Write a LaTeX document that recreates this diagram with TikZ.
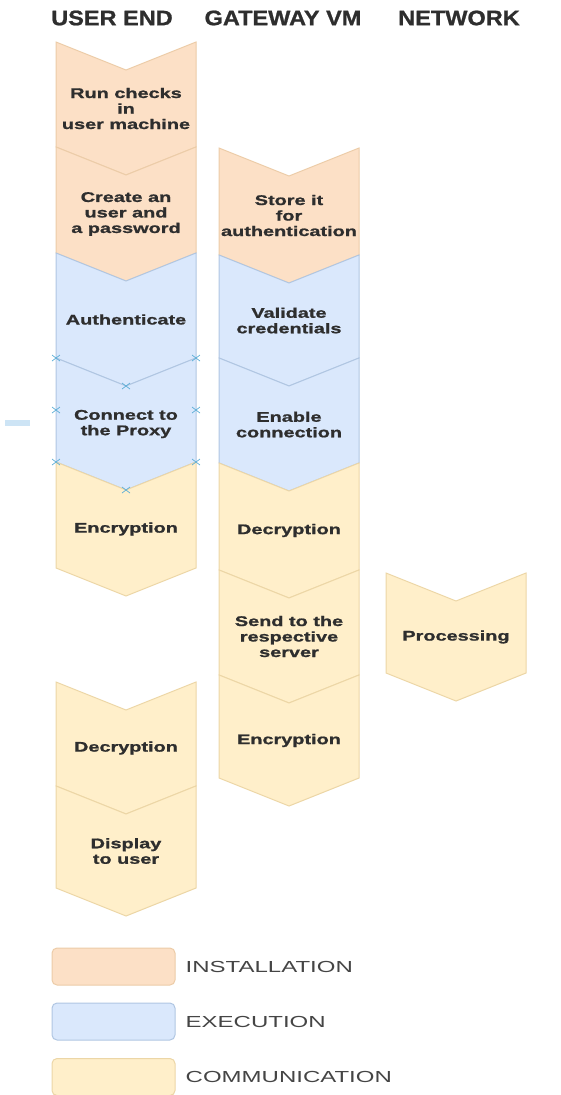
\documentclass[tikz,border=0pt]{standalone}
\usepackage{fontspec}
\setmainfont{Liberation Sans}
\newfontfamily\boxfont{Liberation Sans}[FakeStretch=1.42,FakeBold=1.2]
\newfontfamily\hdfont{Liberation Sans}[FakeStretch=1.12,FakeBold=1]
\newfontfamily\legfont{Liberation Sans}[FakeStretch=1.5]
\definecolor{instf}{RGB}{252,224,198}
\definecolor{instd}{RGB}{236,204,168}
\definecolor{exef}{RGB}{218,232,252}
\definecolor{exed}{RGB}{176,198,226}
\definecolor{commf}{RGB}{255,239,202}
\definecolor{commd}{RGB}{236,214,166}
\definecolor{ink}{gray}{0.18}
\definecolor{legink}{gray}{0.27}
\definecolor{hdl}{RGB}{95,175,215}
\definecolor{bluebar}{RGB}{205,228,245}

\begin{document}
\begin{tikzpicture}[x=1pt,y=-1pt,
  inst/.style={fill=instf,draw=instd},
  exe/.style={fill=exef,draw=exed},
  comm/.style={fill=commf,draw=commd},
  lbl/.style={font=\boxfont\bfseries\fontsize{14}{15.5}\selectfont,text=ink,align=center,inner sep=0pt},
  head/.style={font=\hdfont\bfseries\fontsize{21}{24}\selectfont,text=ink},
  legtext/.style={font=\legfont\fontsize{16}{18}\selectfont,text=legink,anchor=west,inner sep=0pt}]
  \useasboundingbox (0,0) rectangle (561,1095);
  % column heads
  \node[head] (hu) at (112,18) {USER END};
  \node[head] (hg) at (283,18) {GATEWAY VM};
  \node[head] (hn) at (459,18) {NETWORK};
  % chevrons: name/left/top/bottom/style/text
  \foreach \n/\a/\t/\b/\s/\lab in {
      u1/56/42/147/inst/{Run checks\\in\\user machine},
      u2/56/147/253/inst/{Create an\\user and\\a password},
      u3/56/253/358/exe/{Authenticate},
      u4/56/358/462/exe/{Connect to\\the Proxy},
      u5/56/462/568/comm/{Encryption},
      u6/56/682/786/comm/{Decryption},
      u7/56/786/888/comm/{Display\\to user},
      g1/219/148/255/inst/{Store it\\for\\authentication},
      g2/219/255/358/exe/{Validate\\credentials},
      g3/219/358/463/exe/{Enable\\connection},
      g4/219/463/570/comm/{Decryption},
      g5/219/570/675/comm/{Send to the\\respective\\server},
      g6/219/675/778/comm/{Encryption},
      n1/386/573/673/comm/{Processing}}
  {
    \draw[\s,line width=1] (\a,\t) -- (\a+70,\t+28) -- (\a+140,\t) -- (\a+140,\b)
      -- (\a+70,\b+28) -- (\a,\b) -- cycle;
    \node[lbl] (\n) at (\a+70,{(\t+\b)/2+14}) {\lab};
  }
  % selection handles
  \foreach \x/\y in {56/358, 126/386, 196/358, 56/410, 196/410, 56/462, 196/462, 126/490}
    {\draw[hdl,line width=0.7] (\x-4,\y-3) -- (\x+4,\y+3) (\x-4,\y+3) -- (\x+4,\y-3);}
  \fill[bluebar] (5,420) rectangle (30,426);
  % legend
  \node[inst,line width=1,rounded corners=5,minimum width=123,minimum height=37,inner sep=0pt] (kinst) at (113.5,966.5) {};
  \node[exe,line width=1,rounded corners=5,minimum width=123,minimum height=37,inner sep=0pt] (kexe) at (113.5,1021.5) {};
  \node[comm,line width=1,rounded corners=5,minimum width=123,minimum height=37,inner sep=0pt] (kcomm) at (113.5,1077) {};
  \node[legtext] (tinst) at ([xshift=10]kinst.east) {INSTALLATION};
  \node[legtext] (texe) at ([xshift=10]kexe.east) {EXECUTION};
  \node[legtext] (tcomm) at ([xshift=10]kcomm.east) {COMMUNICATION};
\end{tikzpicture}
\end{document}
